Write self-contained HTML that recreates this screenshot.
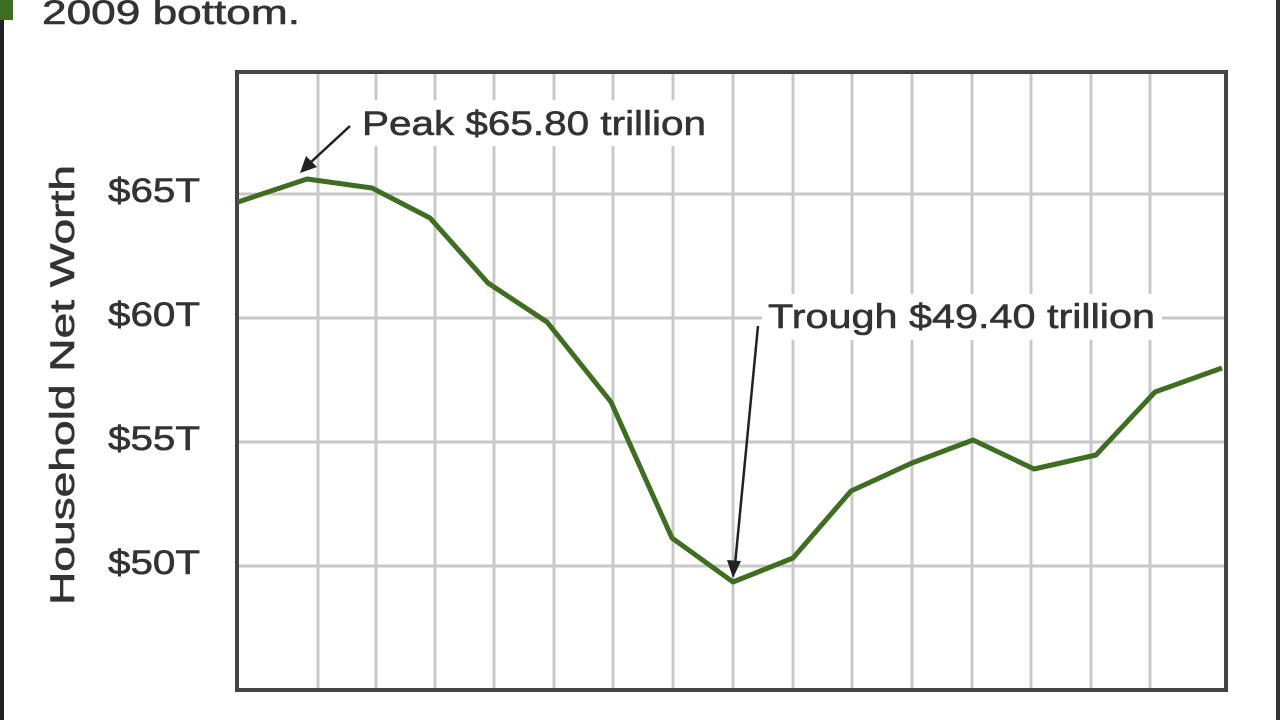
<!DOCTYPE html>
<html><head><style>
body{margin:0;width:1280px;height:720px;background:#fff;overflow:hidden;font-family:"Liberation Sans",sans-serif}
</style></head><body>
<svg width="1280" height="720" xmlns="http://www.w3.org/2000/svg" font-family="Liberation Sans, sans-serif">
<rect x="0" y="0" width="4" height="720" fill="#222"/>
<rect x="0" y="0" width="13" height="20" fill="#3f6e22"/>
<rect x="1276" y="0" width="4" height="720" fill="#333"/>
<text x="42" y="24" font-size="34" fill="#333" stroke="#333" stroke-width="0.6" textLength="258" lengthAdjust="spacingAndGlyphs">2009 bottom.</text>
<g stroke="#c8c8c8" stroke-width="3">
<line x1="236" y1="194" x2="1227" y2="194"/>
<line x1="236" y1="318" x2="1227" y2="318"/>
<line x1="236" y1="442" x2="1227" y2="442"/>
<line x1="236" y1="566" x2="1227" y2="566"/>
<line x1="318" y1="72" x2="318" y2="690"/><line x1="376" y1="72" x2="376" y2="690"/>
<line x1="435" y1="72" x2="435" y2="690"/><line x1="494" y1="72" x2="494" y2="690"/>
<line x1="554" y1="72" x2="554" y2="690"/><line x1="613" y1="72" x2="613" y2="690"/>
<line x1="673" y1="72" x2="673" y2="690"/><line x1="733" y1="72" x2="733" y2="690"/>
<line x1="793" y1="72" x2="793" y2="690"/><line x1="852" y1="72" x2="852" y2="690"/>
<line x1="912" y1="72" x2="912" y2="690"/><line x1="972" y1="72" x2="972" y2="690"/>
<line x1="1031" y1="72" x2="1031" y2="690"/><line x1="1091" y1="72" x2="1091" y2="690"/>
<line x1="1150" y1="72" x2="1150" y2="690"/>
</g>
<rect x="237" y="72" width="989" height="618" fill="none" stroke="#444" stroke-width="4"/>
<rect x="355" y="100" width="358" height="46" fill="#fff"/>
<rect x="762" y="294" width="400" height="46" fill="#fff"/>
<polyline fill="none" stroke="#3f6e22" stroke-width="5" stroke-linejoin="round" points="238,202 307,179 372,188 430,218 488,283 547,322 611,402 672,538 733,582 793,558 851,491 912,463 973,440 1034,469 1096,455 1155,392 1222,368"/>
<g font-size="34" fill="#333" stroke="#333" stroke-width="0.6">
<text x="362" y="135" textLength="344" lengthAdjust="spacingAndGlyphs">Peak $65.80 trillion</text>
<text x="768" y="328" textLength="387" lengthAdjust="spacingAndGlyphs">Trough $49.40 trillion</text>
<text x="108" y="202" textLength="92" lengthAdjust="spacingAndGlyphs">$65T</text>
<text x="108" y="326" textLength="92" lengthAdjust="spacingAndGlyphs">$60T</text>
<text x="108" y="450" textLength="92" lengthAdjust="spacingAndGlyphs">$55T</text>
<text x="108" y="574" textLength="92" lengthAdjust="spacingAndGlyphs">$50T</text>
<text transform="translate(74,385) rotate(-90)" text-anchor="middle" textLength="440" lengthAdjust="spacingAndGlyphs">Household Net Worth</text>
</g>
<line x1="350" y1="126" x2="310" y2="163" stroke="#222" stroke-width="2.5"/>
<polygon points="300,173 306,156 317,167" fill="#222"/>
<line x1="758" y1="326" x2="735" y2="565" stroke="#222" stroke-width="2.5"/>
<polygon points="733,578 727,560 741,561" fill="#222"/>
</svg>
</body></html>
